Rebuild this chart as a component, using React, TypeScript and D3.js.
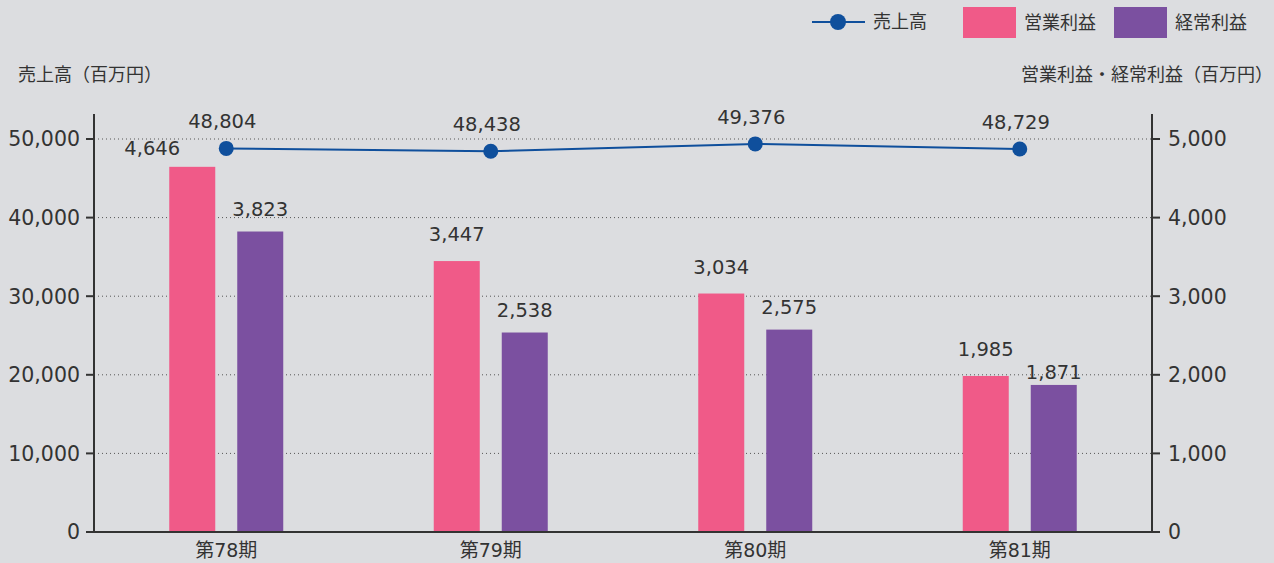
import React, { useEffect, useRef } from 'react';
import * as d3 from 'd3';

const PERIODS = ['第78期', '第79期', '第80期', '第81期'];
const SALES = [48804, 48438, 49376, 48729];
const OPERATING = [4646, 3447, 3034, 1985];
const ORDINARY = [3823, 2538, 2575, 1871];
const LEFT_TICKS = [0, 10000, 20000, 30000, 40000, 50000];
const RIGHT_TICKS = [0, 1000, 2000, 3000, 4000, 5000];

const W = 1274;
const H = 563;
const FONT = "'DejaVu Sans', 'Noto Sans CJK JP', sans-serif";
const PINK = '#f05a88';
const PURPLE = '#7b50a0';
const BLUE = '#0f4f9c';
const INK = '#333';

export default function App() {
  const svgRef = useRef<SVGSVGElement | null>(null);

  useEffect(() => {
    const svg = d3.select(svgRef.current);
    svg.selectAll('*').remove();

    const left = 94;
    const right = 1152;
    const top = 114;
    const bottom = 532;

    const x = d3.scaleBand().domain(PERIODS).range([left, right]).padding(0);
    const yL = d3.scaleLinear().domain([0, 50000]).range([bottom, 139]);
    const yR = d3.scaleLinear().domain([0, 5000]).range([bottom, 139]);
    const fmt = d3.format(',');

    svg.append('rect').attr('width', W).attr('height', H).attr('fill', '#dcdde0');

    // grid
    svg
      .append('g')
      .selectAll('line')
      .data(LEFT_TICKS.filter(d => d > 0))
      .enter()
      .append('line')
      .attr('x1', left)
      .attr('x2', right)
      .attr('y1', d => yL(d))
      .attr('y2', d => yL(d))
      .attr('stroke', '#555')
      .attr('stroke-width', 1)
      .attr('stroke-dasharray', '1,3');

    // bars
    const bw = 46;
    const gap = 11;
    const bars = svg.append('g');
    bars
      .selectAll('rect.op')
      .data(OPERATING)
      .enter()
      .append('rect')
      .attr('x', (d, i) => x(PERIODS[i])! + x.bandwidth() / 2 - gap - bw)
      .attr('y', d => yR(d))
      .attr('width', bw)
      .attr('height', d => bottom - yR(d))
      .attr('fill', PINK);
    bars
      .selectAll('rect.ord')
      .data(ORDINARY)
      .enter()
      .append('rect')
      .attr('x', (d, i) => x(PERIODS[i])! + x.bandwidth() / 2 + gap)
      .attr('y', d => yR(d))
      .attr('width', bw)
      .attr('height', d => bottom - yR(d))
      .attr('fill', PURPLE);

    // bar labels
    const labels = svg.append('g').attr('font-family', FONT).attr('font-size', 19.5).attr('fill', INK).attr('text-anchor', 'middle');
    labels
      .selectAll('text.op')
      .data(OPERATING)
      .enter()
      .append('text')
      .attr('x', (d, i) => x(PERIODS[i])! + x.bandwidth() / 2 - gap - bw / 2 - (i === 0 ? 40 : 0))
      .attr('y', (d, i) => yR(d) - (i === 0 ? 12 : 20))
      .text(d => fmt(d));
    labels
      .selectAll('text.ord')
      .data(ORDINARY)
      .enter()
      .append('text')
      .attr('x', (d, i) => x(PERIODS[i])! + x.bandwidth() / 2 + gap + bw / 2)
      .attr('y', (d, i) => yR(d) - (i === 3 ? 6 : 16))
      .text(d => fmt(d));

    // axes lines
    const axes = svg.append('g').attr('stroke', INK).attr('stroke-width', 2);
    axes.append('line').attr('x1', left).attr('x2', left).attr('y1', top).attr('y2', bottom + 1);
    axes.append('line').attr('x1', right).attr('x2', right).attr('y1', top).attr('y2', bottom + 1);
    axes.append('line').attr('x1', left).attr('x2', right).attr('y1', bottom).attr('y2', bottom);

    // ticks
    const tk = svg.append('g').attr('font-family', FONT).attr('font-size', 20.5).attr('fill', INK);
    LEFT_TICKS.forEach(t => {
      tk.append('line').attr('x1', left - 8).attr('x2', left).attr('y1', yL(t)).attr('y2', yL(t)).attr('stroke', INK).attr('stroke-width', 2);
      tk.append('text').attr('x', left - 14).attr('y', yL(t)).attr('dy', '0.36em').attr('text-anchor', 'end').text(fmt(t));
    });
    RIGHT_TICKS.forEach(t => {
      tk.append('line').attr('x1', right).attr('x2', right + 8).attr('y1', yR(t)).attr('y2', yR(t)).attr('stroke', INK).attr('stroke-width', 2);
      tk.append('text').attr('x', right + 16).attr('y', yR(t)).attr('dy', '0.36em').attr('text-anchor', 'start').text(fmt(t));
    });

    // category labels
    svg
      .append('g')
      .selectAll('text')
      .data(PERIODS)
      .enter()
      .append('text')
      .attr('x', d => x(d)! + x.bandwidth() / 2)
      .attr('y', 557)
      .attr('text-anchor', 'middle')
      .attr('font-family', FONT)
      .attr('font-size', 19)
      .attr('fill', INK)
      .text(d => d);

    // sales line
    const cx = (i: number) => x(PERIODS[i])! + x.bandwidth() / 2;
    const line = d3
      .line<number>()
      .x((d, i) => cx(i))
      .y(d => yL(d));
    svg.append('path').datum(SALES).attr('d', line).attr('fill', 'none').attr('stroke', BLUE).attr('stroke-width', 2);
    svg
      .append('g')
      .selectAll('circle')
      .data(SALES)
      .enter()
      .append('circle')
      .attr('cx', (d, i) => cx(i))
      .attr('cy', d => yL(d))
      .attr('r', 7.5)
      .attr('fill', BLUE);
    svg
      .append('g')
      .selectAll('text')
      .data(SALES)
      .enter()
      .append('text')
      .attr('x', (d, i) => cx(i) - 4)
      .attr('y', d => yL(d) - 20)
      .attr('text-anchor', 'middle')
      .attr('font-family', FONT)
      .attr('font-size', 19.5)
      .attr('fill', INK)
      .text(d => fmt(d));

    // axis titles
    svg.append('text').attr('x', 18).attr('y', 81).attr('font-family', FONT).attr('font-size', 18).attr('fill', INK).text('売上高（百万円）');
    svg.append('text').attr('x', 1273).attr('y', 81).attr('text-anchor', 'end').attr('font-family', FONT).attr('font-size', 18).attr('fill', INK).text('営業利益・経常利益（百万円）');

    // legend
    const lg = svg.append('g').attr('font-family', FONT).attr('font-size', 18).attr('fill', INK);
    lg.append('line').attr('x1', 812).attr('x2', 865).attr('y1', 22).attr('y2', 22).attr('stroke', BLUE).attr('stroke-width', 2);
    lg.append('circle').attr('cx', 838).attr('cy', 22).attr('r', 8).attr('fill', BLUE);
    lg.append('text').attr('x', 873).attr('y', 28).text('売上高');
    lg.append('rect').attr('x', 963).attr('y', 7).attr('width', 53).attr('height', 31).attr('fill', PINK);
    lg.append('text').attr('x', 1024).attr('y', 29).text('営業利益');
    lg.append('rect').attr('x', 1114).attr('y', 7).attr('width', 53).attr('height', 31).attr('fill', PURPLE);
    lg.append('text').attr('x', 1175).attr('y', 29).text('経常利益');
  }, []);

  return <svg ref={svgRef} width={W} height={H} style={{ position: 'absolute', left: 0, top: 0, display: 'block' }} />;
}
